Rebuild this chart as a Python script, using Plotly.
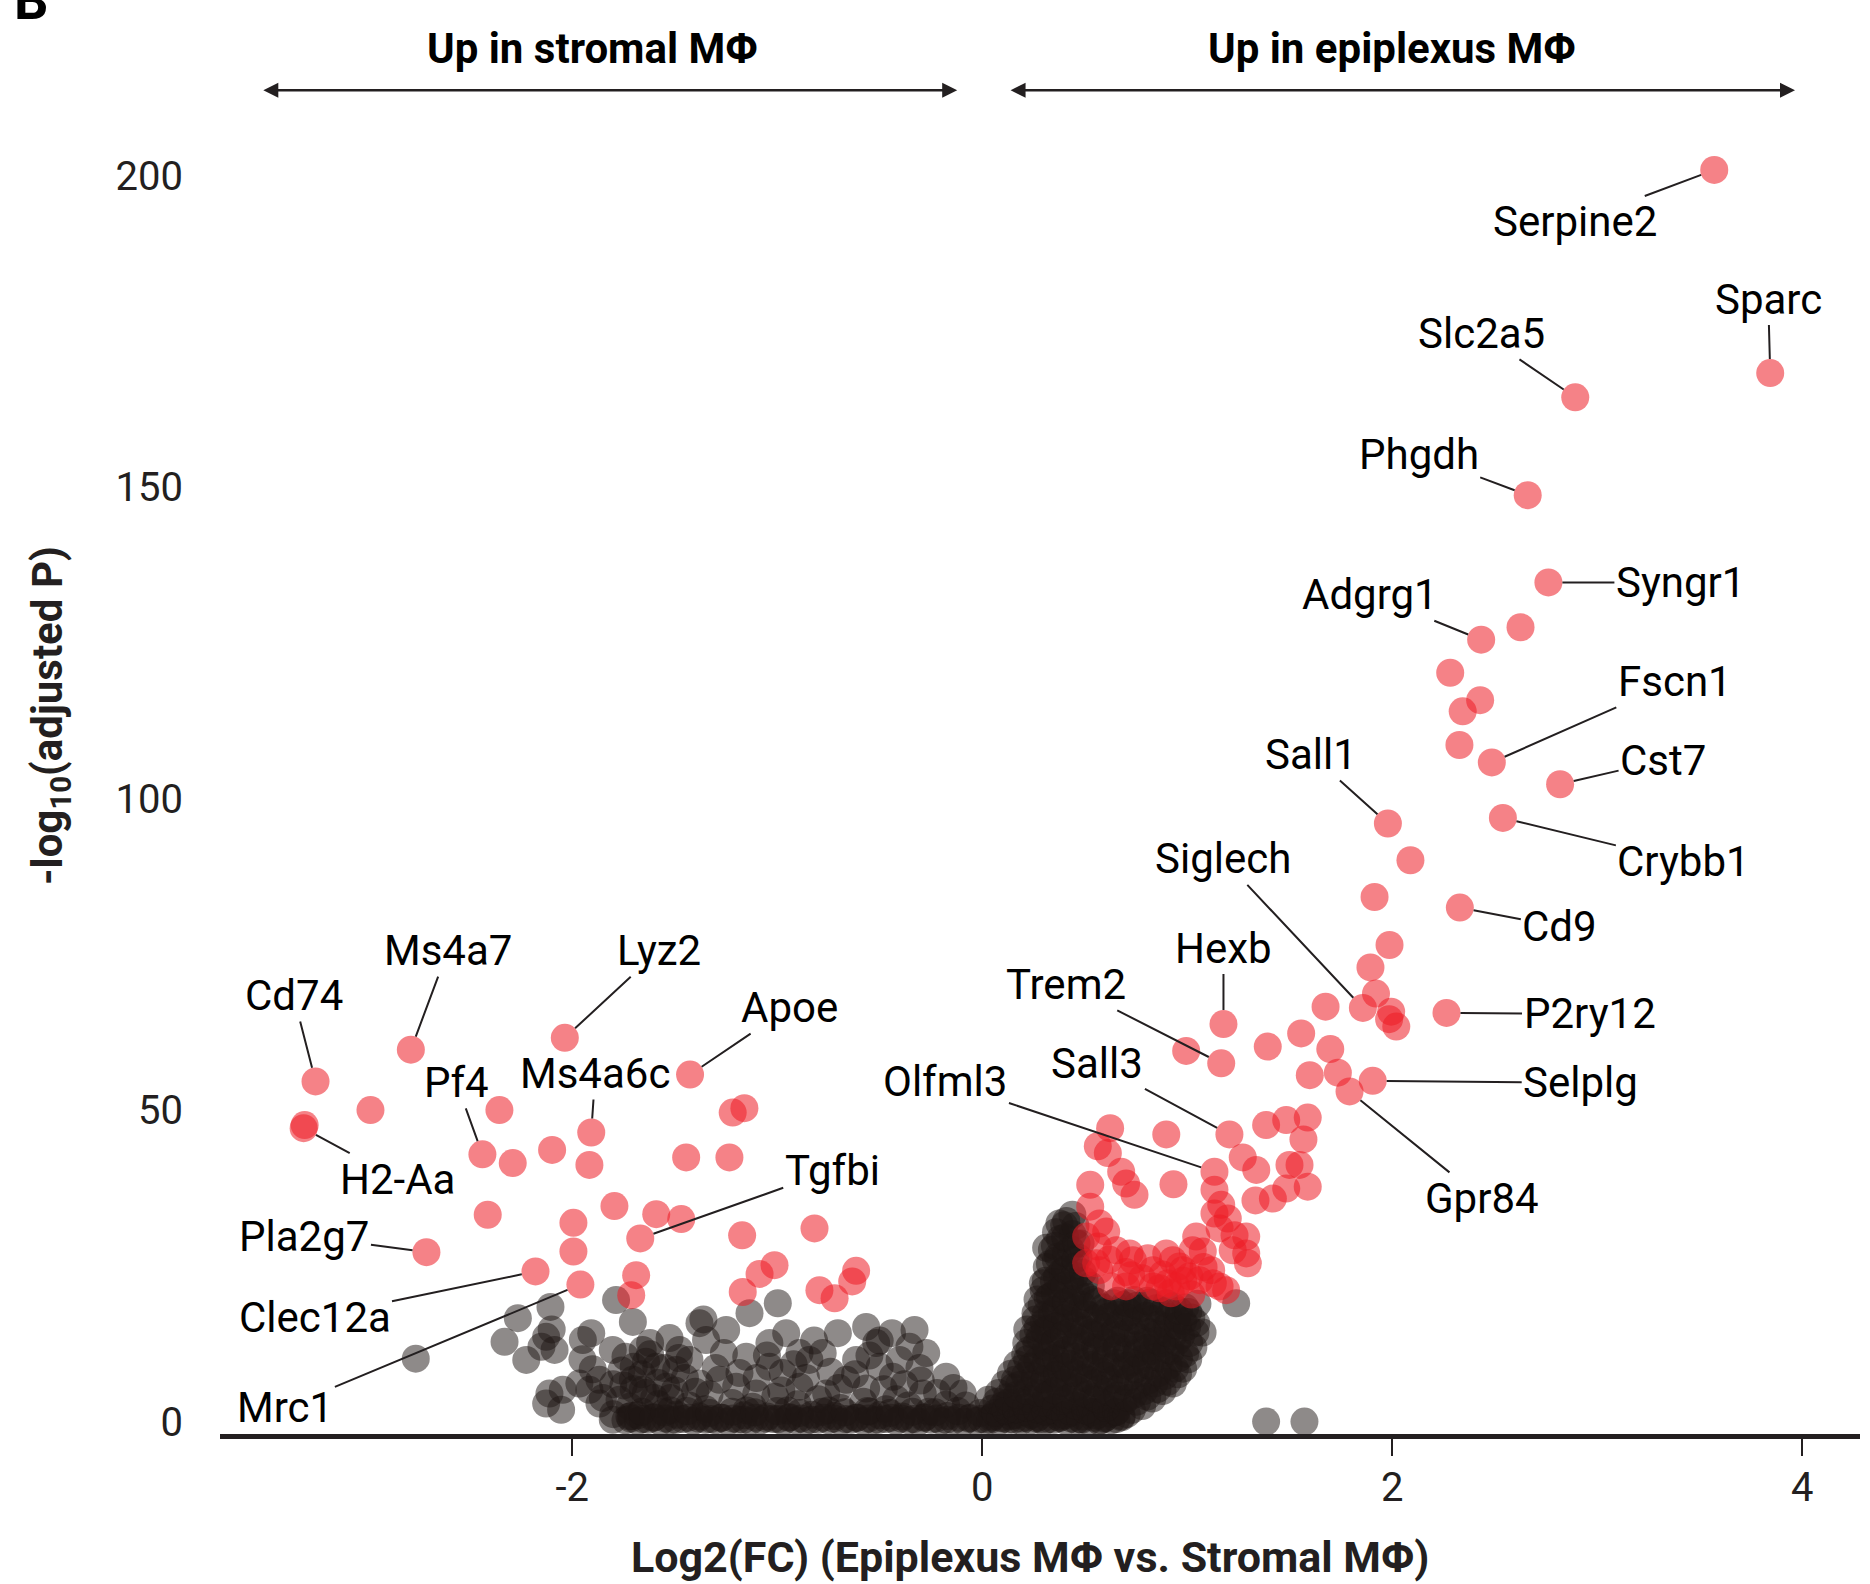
import plotly.graph_objects as go

# ---------------- data ----------------
# labelled significant genes: (name, log2FC, -log10 padj)
labeled = [
    ("Serpine2", 3.571, 200.9), ("Sparc", 3.844, 168.3), ("Slc2a5", 2.893, 164.4),
    ("Phgdh", 2.661, 148.7), ("Syngr1", 2.762, 134.7), ("Adgrg1", 2.434, 125.5),
    ("Fscn1", 2.486, 105.8), ("Cst7", 2.819, 102.3), ("Crybb1", 2.540, 96.9),
    ("Sall1", 1.979, 96.0), ("Cd9", 2.330, 82.5), ("Siglech", 1.857, 66.4),
    ("P2ry12", 2.265, 65.6), ("Selplg", 1.905, 54.7), ("Gpr84", 1.792, 53.0),
    ("Hexb", 1.177, 63.8), ("Trem2", 1.166, 57.5), ("Sall3", 1.206, 46.1),
    ("Olfml3", 1.133, 40.1), ("Cd74", -3.252, 54.6), ("H2-Aa", -3.310, 47.1),
    ("Ms4a7", -2.787, 59.7), ("Lyz2", -2.036, 61.6), ("Apoe", -1.425, 55.7),
    ("Pf4", -2.438, 42.9), ("Ms4a6c", -1.907, 46.4), ("Tgfbi", -1.668, 29.4),
    ("Pla2g7", -2.711, 27.2), ("Clec12a", -2.179, 24.1), ("Mrc1", -1.960, 22.0),
]

# other significant genes (red)
sig_up = [
    (2.626, 127.5), (2.283, 120.2), (2.429, 115.8), (2.344, 114.0), (2.328, 108.6),
    (2.089, 90.1), (1.914, 84.2), (1.987, 76.5), (1.894, 72.9), (1.921, 68.7),
    (1.995, 65.8), (2.020, 63.4), (1.985, 64.6), (1.675, 66.6), (1.556, 62.3),
    (1.698, 59.8), (1.598, 55.6), (1.735, 56.0), (1.588, 48.8), (1.567, 45.3),
    (1.548, 41.2), (1.588, 37.7), (1.393, 60.2), (0.995, 59.5),
    (1.271, 42.4), (1.337, 40.4), (1.385, 47.6), (1.483, 48.4), (1.499, 41.2),
    (1.483, 37.4), (1.418, 35.8), (1.333, 35.5), (1.133, 37.2), (1.166, 34.8),
    (1.133, 33.4), (1.198, 32.6), (1.158, 31.0), (1.231, 29.9), (1.288, 29.7),
    (1.288, 27.0), (1.222, 27.5), (1.296, 25.4),
    (0.898, 46.1), (0.624, 47.1), (0.564, 44.2), (0.613, 43.1), (0.678, 40.1),
    (0.702, 38.2), (0.743, 36.4), (0.527, 38.0), (0.933, 38.1), (0.527, 34.5),
    (0.605, 30.5), (0.564, 28.1), (0.556, 25.4), (0.719, 27.0), (0.808, 26.2),
    (0.727, 23.5), (0.629, 21.7), (0.898, 27.0), (1.044, 29.7), (1.076, 27.3),
    (0.962, 24.9), (1.011, 23.3), (1.158, 21.7), (0.905, 22.2), (0.865, 21.4),
    (1.117, 24.3), (0.572, 31.8), (0.507, 29.7), (0.654, 27.5), (0.572, 24.3),
    (0.735, 25.9), (0.833, 24.3), (0.930, 25.9), (0.979, 24.3), (1.027, 27.5),
    (1.060, 22.7), (1.125, 22.2), (1.190, 21.1), (0.946, 21.7), (0.833, 21.7),
    (0.702, 21.7), (0.507, 25.4),
    (0.78, 23.0), (0.88, 23.6), (0.98, 22.6), (1.08, 24.8), (0.62, 26.0),
    (0.70, 24.0), (0.92, 20.6), (1.02, 20.4),
]
sig_down = [
    (-3.305, 47.6), (-2.984, 50.0), (-2.355, 50.0), (-2.098, 43.6), (-2.290, 41.5),
    (-1.916, 41.2), (-1.444, 42.4), (-1.233, 42.4), (-1.217, 49.6), (-1.160, 50.3),
    (-2.412, 33.2), (-1.994, 31.9), (-1.794, 34.6), (-1.590, 33.3), (-1.468, 32.5),
    (-1.171, 29.9), (-0.818, 31.0), (-1.994, 27.3), (-1.688, 23.5), (-1.712, 20.3),
    (-1.013, 25.1), (-1.086, 23.7), (-1.168, 20.8), (-0.615, 24.2), (-0.634, 22.5),
    (-0.794, 21.1), (-0.720, 19.8),
]

# non-significant genes (grey/black)
ns_left = [
    (-2.763, 10.1), (-1.786, 19.5), (-2.106, 18.4), (-2.265, 16.6), (-2.330, 12.8),
    (-2.127, 13.6), (-2.086, 11.5), (-2.224, 9.9), (-1.948, 13.1), (-1.907, 14.2),
    (-1.704, 16.0), (-1.802, 11.5), (-1.656, 11.5), (-1.135, 17.4), (-0.997, 19.0),
    (-1.525, 13.4), (-1.379, 15.8), (-1.360, 16.4), (-1.249, 14.7), (-1.477, 11.5),
    (-1.347, 13.1), (-1.428, 9.9), (-1.151, 10.4), (-1.038, 12.6), (-0.956, 14.2),
    (-0.891, 11.0), (-0.843, 9.9), (-0.704, 14.2), (-0.566, 15.2), (-0.517, 12.6),
    (-0.500, 13.0), (-0.330, 14.7), (-0.615, 9.9), (-0.403, 9.9), (-0.306, 8.6),
    (-0.436, 7.2), (-0.663, 6.7), (-0.566, 5.3), (-0.290, 4.5), (-0.176, 2.7),
    (-0.973, 7.8), (-1.038, 8.8), (-1.184, 7.8), (-1.379, 6.1), (-1.493, 8.3),
    (-1.590, 8.8), (-1.704, 6.7), (-1.656, 5.1), (-1.769, 3.5), (-1.867, 6.7),
    (-1.965, 6.1), (-2.046, 5.1), (-2.111, 4.5), (-2.127, 2.9), (-2.054, 1.9),
    (-1.802, 0.3), (-1.867, 2.9), (-1.916, 5.1), (-1.721, 0.8), (-0.440, 14.2),
    (-0.500, 8.8), (-0.355, 12.0), (-0.273, 11.0), (-0.176, 7.2), (-0.095, 4.5),
    (-0.778, 11.0), (-0.891, 5.6), (-0.761, 4.5), (-1.282, 6.7), (-1.541, 5.6),
    (-1.102, 4.5),
    (-1.85, 3.8), (-1.80, 6.0), (-1.76, 8.2), (-1.72, 2.4), (-1.70, 5.2),
    (-1.66, 7.6), (-1.64, 9.6), (-1.60, 3.8), (-1.58, 6.2), (-1.55, 8.6),
    (-1.52, 1.8), (-1.50, 5.0), (-1.80, 1.2), (-1.68, 1.0),
    (-1.52, 3.8), (-1.43, 2.6), (-1.33, 4.4), (-1.22, 3.0), (-1.12, 2.4),
    (-1.01, 4.0), (-0.90, 2.8), (-0.80, 3.6), (-0.69, 2.2), (-0.58, 3.2),
    (-0.47, 2.0), (-0.36, 2.6), (-0.26, 1.6),
    (-2.15, 12.0), (-2.10, 14.8), (-1.95, 10.0), (-1.90, 8.4), (-1.74, 10.4),
    (-1.62, 12.6), (-1.45, 7.0), (-1.40, 4.8), (-1.30, 8.6), (-1.26, 11.0),
    (-1.20, 5.6), (-1.10, 7.0), (-1.05, 10.6), (-0.98, 5.0), (-0.92, 9.2),
    (-0.86, 7.0), (-0.82, 13.0), (-0.74, 8.0), (-0.70, 5.4), (-0.62, 7.6),
    (-0.55, 10.6), (-0.48, 5.2), (-0.42, 3.6), (-0.38, 6.0), (-0.30, 6.6),
    (-0.22, 4.6), (-0.14, 5.4), (-0.08, 2.6), (-1.58, 2.8), (-1.64, 4.6),
    (-1.75, 5.8), (-1.70, 8.8), (-1.62, 10.8), (-1.48, 10.2), (-1.35, 2.0),
    (-1.15, 1.8), (-0.95, 1.8), (-0.75, 1.8), (-0.55, 1.6),
]
ns_band = [
    (-1.74, 0.2), (-1.68, 0.1), (-1.63, 0.3), (-1.57, 0.0), (-1.52, 0.2), (-1.46, 0.4),
    (-1.41, 0.1), (-1.35, 0.3), (-1.30, 0.2), (-1.24, 0.0), (-1.19, 0.3), (-1.13, 0.1),
    (-1.08, 0.2), (-1.02, 0.4), (-0.97, 0.0), (-0.91, 0.2), (-0.86, 0.1), (-0.80, 0.3),
    (-0.75, 0.2), (-0.69, 0.0), (-0.64, 0.3), (-0.58, 0.1), (-0.53, 0.2), (-0.47, 0.4),
    (-0.42, 0.1), (-0.36, 0.2), (-0.31, 0.0), (-0.25, 0.3), (-0.20, 0.1), (-0.14, 0.2),
    (-0.09, 0.0), (-0.03, 0.1), (0.02, 0.2), (0.08, 0.0), (0.13, 0.3), (0.19, 0.1),
    (0.24, 0.2), (0.30, 0.0), (0.35, 0.3), (0.41, 0.1), (0.46, 0.2), (0.52, 0.0),
    (0.57, 0.1), (0.63, 0.2),
    (-1.71, 0.9), (-1.60, 0.7), (-1.49, 1.1), (-1.38, 0.8), (-1.27, 0.6), (-1.16, 1.0),
    (-1.05, 0.8), (-0.94, 0.7), (-0.83, 1.1), (-0.72, 0.9), (-0.61, 0.6), (-0.50, 1.0),
    (-0.39, 0.8), (-0.28, 0.7), (-0.17, 0.9), (-0.06, 0.6), (0.05, 0.8), (0.16, 1.0),
    (0.27, 0.7), (0.38, 0.9), (0.49, 0.8), (0.60, 0.6), (0.68, 0.9),
    (-1.715, 0.5), (-1.655, 0.4), (-1.605, 0.6), (-1.545, 0.5), (-1.495, 0.3), (-1.435, 0.6),
    (-1.385, 0.5), (-1.325, 0.4), (-1.275, 0.6), (-1.215, 0.5), (-1.165, 0.3), (-1.105, 0.6),
    (-1.055, 0.5), (-0.995, 0.4), (-0.945, 0.6), (-0.885, 0.5), (-0.835, 0.3), (-0.775, 0.6),
    (-0.725, 0.5), (-0.665, 0.4), (-0.615, 0.6), (-0.555, 0.5), (-0.505, 0.3), (-0.445, 0.6),
    (-0.395, 0.5), (-0.335, 0.4), (-0.285, 0.6), (-0.225, 0.5), (-0.175, 0.3), (-0.115, 0.6),
    (-0.065, 0.5), (-0.005, 0.4), (0.045, 0.6), (0.105, 0.5), (0.155, 0.3), (0.215, 0.6),
    (0.265, 0.5), (0.325, 0.4), (0.375, 0.6), (0.435, 0.5), (0.485, 0.3), (0.545, 0.6),
    (0.595, 0.5), (0.655, 0.4),
    (-1.66, 1.6), (-1.55, 1.5), (-1.44, 1.7), (-1.33, 1.4), (-1.22, 1.6), (-1.11, 1.5),
    (-1.00, 1.7), (-0.89, 1.4), (-0.78, 1.6), (-0.67, 1.5), (-0.56, 1.7), (-0.45, 1.4),
    (-0.34, 1.6), (-0.23, 1.5), (-0.12, 1.7), (-0.01, 1.4), (0.10, 1.6), (0.21, 1.5),
    (0.32, 1.7), (0.43, 1.4), (0.54, 1.6), (0.65, 1.5),
]
ns_right = [
    (0.04, 0.3), (0.05, 2.1), (0.03, 3.5),
    (0.09, 0.6), (0.10, 2.6), (0.08, 4.6),
    (0.14, 0.9), (0.13, 3.1), (0.15, 5.5), (0.14, 7.7),
    (0.19, 0.5), (0.20, 3.3), (0.18, 5.9), (0.19, 8.5), (0.21, 10.8),
    (0.24, 1.1), (0.23, 3.7), (0.25, 6.1), (0.24, 8.9), (0.23, 11.5), (0.25, 13.9), (0.26, 16.4),
    (0.29, 0.4), (0.30, 3.1), (0.28, 5.7), (0.29, 8.1), (0.31, 10.9), (0.28, 13.5),
    (0.30, 15.9), (0.29, 18.7), (0.30, 21.1),
    (0.34, 1.9), (0.33, 4.5), (0.35, 6.9), (0.33, 9.7), (0.34, 12.1), (0.32, 14.9),
    (0.34, 17.3), (0.33, 20.1), (0.35, 22.5), (0.33, 25.3), (0.34, 27.6),
    (0.38, 0.6), (0.39, 3.3), (0.37, 5.7), (0.38, 8.5), (0.39, 10.9), (0.37, 13.7),
    (0.38, 16.1), (0.40, 18.9), (0.38, 21.3), (0.39, 24.1), (0.37, 26.5), (0.38, 29.3), (0.40, 31.5),
    (0.43, 1.7), (0.44, 4.1), (0.42, 6.9), (0.43, 9.3), (0.45, 12.1), (0.43, 14.5),
    (0.42, 17.3), (0.44, 19.7), (0.43, 22.5), (0.45, 24.9), (0.43, 27.7), (0.44, 30.1), (0.44, 33.2),
    (0.48, 0.4), (0.49, 3.1), (0.47, 5.5), (0.48, 8.3), (0.50, 10.7), (0.48, 13.5),
    (0.47, 15.9), (0.49, 18.7), (0.48, 21.1), (0.49, 23.9), (0.47, 26.3), (0.48, 28.6),
    (0.53, 1.5), (0.54, 3.9), (0.52, 6.7), (0.53, 9.1), (0.55, 11.9), (0.53, 14.3),
    (0.52, 17.1), (0.54, 19.5), (0.53, 21.8),
    (0.58, 0.2), (0.59, 2.9), (0.57, 5.3), (0.58, 8.1), (0.60, 10.5), (0.58, 13.3), (0.57, 15.7), (0.59, 18.3),
    (0.63, 1.3), (0.64, 3.7), (0.62, 6.5), (0.63, 8.9), (0.65, 11.7), (0.63, 14.1), (0.62, 16.9), (0.64, 19.0),
    (0.68, 0.7), (0.69, 3.1), (0.67, 5.5), (0.68, 8.3), (0.70, 10.7), (0.68, 13.5), (0.67, 15.9), (0.69, 18.7),
    (0.73, 1.9), (0.74, 4.3), (0.72, 7.1), (0.73, 9.5), (0.75, 12.3), (0.73, 14.7), (0.72, 17.5), (0.74, 19.5),
    (0.78, 2.5), (0.79, 4.9), (0.77, 7.7), (0.78, 10.1), (0.80, 12.9), (0.78, 15.3), (0.77, 18.1),
    (0.83, 3.7), (0.84, 6.1), (0.82, 8.9), (0.83, 11.3), (0.85, 14.1), (0.83, 16.5), (0.82, 19.1),
    (0.88, 4.9), (0.89, 7.3), (0.87, 10.1), (0.88, 12.5), (0.90, 15.3), (0.88, 17.7),
    (0.93, 6.1), (0.94, 8.5), (0.92, 11.3), (0.93, 13.7), (0.95, 16.5), (0.93, 18.5),
    (0.98, 8.5), (0.99, 10.9), (0.97, 13.7), (0.98, 16.1), (0.99, 18.3),
    (1.03, 11.9), (1.04, 14.3), (1.02, 16.7),
    (1.044, 15.8), (1.075, 14.3), (1.05, 18.9), (1.239, 19.0), (1.385, 0.0), (1.572, 0.0),
    (0.377, 31.8), (0.312, 27.9), (0.296, 22.2),
    # second (offset) layer of the dense cloud
    (0.065, 1.4), (0.07, 3.2),
    (0.115, 1.8), (0.12, 3.9), (0.11, 6.0),
    (0.165, 2.0), (0.17, 4.3), (0.16, 6.7), (0.17, 9.2),
    (0.215, 2.3), (0.22, 4.9), (0.21, 7.4), (0.22, 10.0), (0.215, 12.6), (0.22, 14.8),
    (0.265, 2.0), (0.27, 4.6), (0.26, 7.2), (0.27, 9.8), (0.265, 12.4), (0.27, 15.0), (0.26, 17.4), (0.27, 19.6),
    (0.31, 1.6), (0.315, 4.2), (0.305, 6.8), (0.31, 9.4), (0.315, 12.0), (0.305, 14.6),
    (0.31, 17.2), (0.32, 19.8), (0.31, 22.6), (0.315, 24.8),
    (0.36, 2.4), (0.355, 5.0), (0.365, 7.6), (0.36, 10.2), (0.355, 12.8), (0.365, 15.4),
    (0.36, 18.0), (0.355, 20.6), (0.365, 23.2), (0.36, 25.8), (0.355, 28.2), (0.36, 30.4),
    (0.405, 1.0), (0.41, 3.6), (0.40, 6.2), (0.405, 8.8), (0.41, 11.4), (0.40, 14.0),
    (0.405, 16.6), (0.41, 19.2), (0.40, 21.8), (0.405, 24.4), (0.41, 27.0), (0.405, 29.6), (0.41, 32.2),
    (0.455, 2.6), (0.46, 5.2), (0.45, 7.8), (0.455, 10.4), (0.46, 13.0), (0.45, 15.6),
    (0.455, 18.2), (0.46, 20.8), (0.45, 23.4), (0.455, 26.0), (0.46, 28.6), (0.455, 31.4),
    (0.505, 1.8), (0.51, 4.4), (0.50, 7.0), (0.505, 9.6), (0.51, 12.2), (0.50, 14.8),
    (0.505, 17.4), (0.51, 20.0), (0.50, 22.6),
    (0.555, 1.0), (0.56, 3.6), (0.55, 6.2), (0.555, 8.8), (0.56, 11.4), (0.55, 14.0), (0.555, 16.6), (0.56, 19.2),
    (0.605, 2.2), (0.61, 4.8), (0.60, 7.4), (0.605, 10.0), (0.61, 12.6), (0.60, 15.2), (0.605, 17.6),
    (0.655, 1.6), (0.66, 4.2), (0.65, 6.8), (0.655, 9.4), (0.66, 12.0), (0.65, 14.6), (0.655, 17.2), (0.66, 19.4),
    (0.705, 1.2), (0.71, 3.8), (0.70, 6.4), (0.705, 9.0), (0.71, 11.6), (0.70, 14.2), (0.705, 16.8), (0.71, 19.0),
    (0.755, 3.2), (0.76, 5.8), (0.75, 8.4), (0.755, 11.0), (0.76, 13.6), (0.75, 16.2), (0.755, 18.6),
    (0.805, 4.0), (0.81, 6.6), (0.80, 9.2), (0.805, 11.8), (0.81, 14.4), (0.80, 17.0), (0.805, 19.4),
    (0.855, 5.2), (0.86, 7.8), (0.85, 10.4), (0.855, 13.0), (0.86, 15.6), (0.85, 18.2),
    (0.905, 6.4), (0.91, 9.0), (0.90, 11.6), (0.905, 14.2), (0.91, 16.8), (0.90, 19.0),
    (0.955, 7.6), (0.96, 10.2), (0.95, 12.8), (0.955, 15.4), (0.96, 17.8),
    (1.005, 10.0), (1.01, 12.6), (1.00, 15.2), (1.005, 17.6),
]

x_ticks = [-2, 0, 2, 4]
x_ticktext = ["-2", "0", "2", "4"]
y_ticks = [0, 50, 100, 150, 200]

# ---------------- label placement (pixel offsets text-centre minus point) ----------------
label_offsets = {
    "Serpine2": (-139, 52), "Sparc": (-2, -74), "Slc2a5": (-94, -64), "Phgdh": (-109, -41),
    "Syngr1": (132, 0), "Adgrg1": (-111, -45), "Fscn1": (183, -81), "Cst7": (103, -24),
    "Crybb1": (181, 44), "Sall1": (-77, -69), "Cd9": (100, 19), "Siglech": (-140, -149),
    "P2ry12": (143, 1), "Selplg": (208, 2), "Gpr84": (132, 107), "Hexb": (0, -76),
    "Trem2": (-155, -79), "Sall3": (-132, -71), "Olfml3": (-269, -90), "Cd74": (-22, -86),
    "Ms4a7": (37, -99), "Lyz2": (94, -87), "Apoe": (99, -67), "Pf4": (-26, -72),
    "Ms4a6c": (4, -59), "H2-Aa": (94, 51), "Tgfbi": (192, -68), "Pla2g7": (-122, -16),
    "Clec12a": (-221, 46), "Mrc1": (-295, 123),
}

INK = "#231f20"
FONT = "Roboto"

ns = ns_left + ns_band + ns_right
sig = sig_up + sig_down + [(x, y) for _, x, y in labeled]

fig = go.Figure()
fig.add_trace(go.Scatter(
    x=[p[0] for p in ns], y=[p[1] for p in ns], mode="markers",
    marker=dict(size=28, color="rgba(30,22,20,0.5)", line=dict(width=0)),
    hoverinfo="skip", cliponaxis=False,
))
fig.add_trace(go.Scatter(
    x=[p[0] for p in sig], y=[p[1] for p in sig], mode="markers",
    marker=dict(size=28, color="rgba(236,28,36,0.55)", line=dict(width=0)),
    hoverinfo="skip", cliponaxis=False,
))

annotations = []
for name, x, y in labeled:
    ax, ay = label_offsets[name]
    annotations.append(dict(
        x=x, y=y, xref="x", yref="y", text=name, showarrow=True,
        ax=ax, ay=ay, arrowhead=0, arrowwidth=2, arrowcolor=INK, standoff=14,
        font=dict(family=FONT, size=42, color="black"),
    ))

# direction arrows and headings
for x0, x1 in [(-3.514, -0.122), (0.131, 3.965)]:
    annotations.append(dict(
        x=x1, y=213.7, ax=x0, ay=213.7, xref="x", yref="y", axref="x", ayref="y",
        text="", showarrow=True, arrowside="end+start", arrowhead=2, startarrowhead=2,
        arrowsize=1.2, startarrowsize=1.2, arrowwidth=2.5, arrowcolor=INK,
    ))
for txt, xc in [("Up in stromal MΦ", -1.90), ("Up in epiplexus MΦ", 2.00)]:
    annotations.append(dict(
        x=xc, y=220.4, xref="x", yref="y", text="<b>" + txt + "</b>", showarrow=False,
        font=dict(family=FONT, size=42, color="black"), xanchor="center", yanchor="middle",
    ))

annotations.append(dict(
    x=0.4938, y=-0.0882, xref="paper", yref="paper", showarrow=False,
    text="<b>Log2(FC) (Epiplexus MΦ vs. Stromal MΦ)</b>",
    font=dict(family=FONT, size=43, color=INK), xanchor="center", yanchor="middle",
))
annotations.append(dict(
    x=-0.1030, y=0.5151, xref="paper", yref="paper", showarrow=False, textangle=-90,
    text="<b>-log<sub>10</sub>(adjusted P)</b>",
    font=dict(family=FONT, size=42, color=INK), xanchor="center", yanchor="middle",
))
annotations.append(dict(
    x=-0.1268, y=1.0043, xref="paper", yref="paper", showarrow=False, text="<b>B</b>",
    font=dict(family=FONT, size=54, color="black"), xanchor="left", yanchor="bottom",
))

fig.update_layout(
    width=1870, height=1584,
    margin=dict(l=220, r=10, t=40, b=150),
    paper_bgcolor="white", plot_bgcolor="white", showlegend=False,
    font=dict(family=FONT, color=INK),
    annotations=annotations, hovermode=False,
)
fig.update_xaxes(
    range=[-3.718, 4.282], tickvals=x_ticks, ticktext=x_ticktext,
    ticks="outside", ticklen=17, tickwidth=2, tickcolor=INK,
    showline=True, linewidth=5, linecolor=INK, showgrid=False, zeroline=False,
    ticklabelstandoff=-3,
    tickfont=dict(family=FONT, size=40, color=INK),
)
fig.update_yaxes(
    range=[-1.99, 221.76], tickvals=y_ticks, ticks="", showline=False,
    showgrid=False, zeroline=False, ticklabelstandoff=36,
    tickfont=dict(family=FONT, size=40, color=INK),
)

fig.write_html("out.html", config={"displayModeBar": False},
               post_script="document.body.style.margin='0';")
